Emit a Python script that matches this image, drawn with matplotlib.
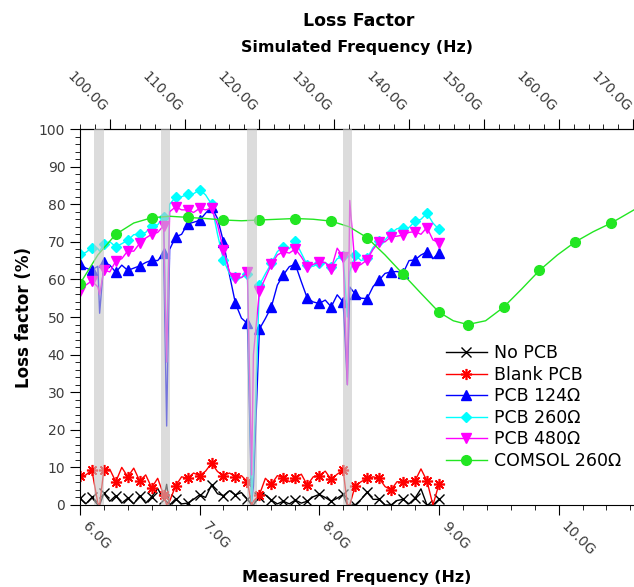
import matplotlib
matplotlib.use("Agg")
import matplotlib.pyplot as plt
from matplotlib.ticker import MultipleLocator, FuncFormatter
import numpy as np

# Frecuencia medida (GHz)
freq = [6.00, 6.05, 6.10, 6.15, 6.165, 6.20, 6.25, 6.30, 6.35, 6.40, 6.45,
        6.50, 6.55, 6.60, 6.65, 6.70, 6.725, 6.75, 6.80, 6.85, 6.90, 6.95,
        7.00, 7.05, 7.10, 7.15, 7.20, 7.25, 7.30, 7.35, 7.40, 7.435, 7.45,
        7.50, 7.55, 7.60, 7.65, 7.70, 7.75, 7.80, 7.85, 7.90, 7.95,
        8.00, 8.05, 8.10, 8.15, 8.20, 8.235, 8.255, 8.30, 8.35, 8.40, 8.45,
        8.50, 8.55, 8.60, 8.65, 8.70, 8.75, 8.80, 8.85, 8.90, 8.95, 9.00]

no_pcb = [1.8, 0.3, 2.0, 0.0, 0.0, 3.1, 1.0, 2.5, 0.5, 1.8, 0.3,
          2.5, 0.5, 2.2, 4.4, 1.5, 5.5, 0.0, 1.6, 0.3, 0.5, 1.5,
          2.7, 2.0, 5.3, 3.0, 2.5, 3.8, 2.7, 3.3, 1.5, 0.0, 0.0,
          2.2, 2.7, 1.3, 0.3, 1.0, 0.3, 1.3, 0.5, 1.0, 2.2,
          2.8, 2.0, 1.0, 1.8, 2.8, 0.0, 0.0, 0.0, 1.5, 3.4, 1.5,
          1.5, 0.0, 0.0, 1.2, 1.5, 0.3, 1.8, 4.3, 0.0, 0.0, 1.5]

blank_pcb = [7.6, 8.0, 9.3, 0.5, 0.0, 9.3, 9.5, 6.2, 10.0, 7.5, 9.8,
             6.4, 8.0, 4.6, 7.1, 2.7, 0.0, 1.0, 5.1, 7.5, 7.1, 8.5,
             7.8, 9.0, 11.1, 8.9, 7.8, 8.5, 7.5, 7.8, 6.2, 0.0, 1.0,
             2.7, 7.1, 5.5, 7.8, 7.3, 6.2, 7.1, 8.2, 5.3, 7.5,
             7.8, 9.0, 6.8, 8.2, 9.3, 0.0, 0.0, 5.1, 6.2, 7.1, 7.5,
             7.1, 4.9, 4.0, 6.2, 6.0, 6.4, 6.4, 9.6, 6.4, 0.0, 5.5]

pcb_124 = [64.0, 63.0, 62.5, 63.5, 51.0, 64.5, 63.8, 61.9, 63.8, 62.4, 63.0,
           63.6, 64.5, 65.1, 65.0, 66.9, 21.0, 68.0, 71.3, 72.0, 74.8, 75.2,
           75.7, 77.6, 79.3, 76.2, 70.0, 61.2, 53.6, 49.7, 48.3, 1.0, 5.0,
           46.8, 49.6, 52.7, 58.5, 61.2, 63.4, 64.0, 59.4, 55.0, 54.0,
           53.6, 54.5, 52.7, 55.9, 54.0, 32.0, 58.0, 56.1, 55.0, 54.9, 58.1,
           59.8, 61.6, 62.0, 62.1, 61.6, 65.0, 65.2, 66.5, 67.3, 65.5, 67.1]

pcb_260 = [66.7, 67.2, 68.4, 68.2, 67.5, 69.4, 70.0, 68.7, 69.5, 70.4, 71.9,
           72.0, 72.5, 74.3, 74.5, 76.7, 38.0, 80.0, 81.9, 82.0, 82.6, 82.8,
           83.8, 82.5, 80.0, 72.0, 65.2, 61.5, 60.7, 60.5, 61.4, 1.0, 10.0,
           58.5, 61.5, 64.3, 67.4, 68.7, 68.2, 70.2, 67.0, 63.8, 63.5,
           64.3, 64.5, 63.2, 65.5, 66.2, 50.0, 62.0, 66.5, 65.0, 65.6, 68.5,
           70.3, 70.5, 72.3, 73.5, 73.6, 73.8, 75.5, 76.0, 77.6, 75.0, 73.3]

pcb_480 = [56.9, 58.5, 59.6, 58.0, 56.0, 62.5, 62.0, 64.9, 65.5, 67.6, 67.5,
           69.6, 71.0, 72.0, 72.5, 74.3, 38.0, 78.0, 79.3, 78.5, 78.5, 77.8,
           78.9, 78.5, 78.9, 74.5, 67.8, 62.0, 60.3, 60.5, 61.9, 8.0, 40.0,
           56.9, 60.4, 64.0, 66.5, 67.4, 67.0, 68.1, 66.0, 63.4, 64.0,
           64.6, 64.5, 62.8, 68.3, 66.0, 32.0, 81.0, 63.2, 64.0, 65.2, 68.0,
           70.0, 70.0, 71.4, 71.5, 71.8, 72.5, 72.7, 72.0, 73.8, 70.5, 69.8]

# Simulacion COMSOL (eje en frecuencia medida)
comsol_freq = [6.0, 6.15, 6.3, 6.45, 6.6, 6.75, 6.9, 7.05, 7.2, 7.35,
               7.5, 7.65, 7.8, 7.95, 8.1, 8.25, 8.4, 8.55, 8.7, 8.85,
               9.0, 9.12, 9.24, 9.39, 9.54, 9.69, 9.84, 9.99, 10.14, 10.29,
               10.44, 10.63]
comsol_260 = [58.8, 66.5, 72.0, 75.0, 76.4, 76.8, 76.5, 76.2, 75.8, 75.6,
              75.8, 76.0, 76.2, 76.0, 75.5, 74.0, 71.1, 66.5, 61.4, 56.3,
              51.3, 49.0, 48.0, 49.0, 52.6, 57.4, 62.4, 66.5, 70.0, 72.7,
              75.0, 78.5]

# Bandas excluidas
bands = [(6.12, 6.20), (6.68, 6.75), (7.40, 7.48), (8.20, 8.27)]

freq = np.array(freq)
marks = list(np.isclose(np.round(freq * 10), freq * 10))

fig = plt.figure(figsize=(6.34, 5.87), dpi=100)
ax = fig.add_axes([0.126, 0.1397, 0.874, 0.6405])

ax.plot(freq, no_pcb, color='black', marker='x', ms=7, lw=1, markevery=marks, label='No PCB')
ax.plot(freq, blank_pcb, color='red', marker=(8, 2, 0), ms=8, mew=1.2, lw=1, markevery=marks, label='Blank PCB')
ax.plot(freq, pcb_124, color='blue', marker='^', ms=7, lw=1, markevery=marks, label='PCB 124Ω')
ax.plot(freq, pcb_260, color='cyan', marker='D', ms=5.5, lw=1, markevery=marks, label='PCB 260Ω')
ax.plot(freq, pcb_480, color='magenta', marker='v', ms=7, lw=1, markevery=marks, label='PCB 480Ω')
ax.plot(comsol_freq, comsol_260, color='#22e622', marker='o', ms=7, lw=1, markevery=2, label='COMSOL 260Ω')

for b0, b1 in bands:
    ax.axvspan(b0, b1, color='#c5c5c5', alpha=0.6, lw=0, zorder=5)

ax.set_xlim(6.0, 10.63)
ax.set_ylim(0, 100)
ax.xaxis.set_major_locator(MultipleLocator(1.0))
ax.xaxis.set_minor_locator(MultipleLocator(0.2))
ax.yaxis.set_major_locator(MultipleLocator(10))
ax.yaxis.set_minor_locator(MultipleLocator(2))
ax.xaxis.set_major_formatter(FuncFormatter(lambda x, p: '%.1fG' % x))
ax.tick_params(which='major', length=7, labelsize=10, labelcolor='#3c3c3c')
ax.tick_params(which='minor', length=3.5)
for lbl in ax.get_xticklabels():
    lbl.set_rotation(-45)
    lbl.set_ha('left')
ax.spines['right'].set_visible(False)

sec = ax.secondary_xaxis('top', functions=(lambda x: x * 16, lambda x: x / 16))
sec.xaxis.set_major_locator(MultipleLocator(10))
sec.xaxis.set_minor_locator(MultipleLocator(2))
sec.xaxis.set_major_formatter(FuncFormatter(lambda x, p: '%.1fG' % x))
sec.tick_params(which='major', length=7, labelsize=10, labelcolor='#3c3c3c')
sec.tick_params(which='minor', length=3.5)
for lbl in sec.get_xticklabels():
    lbl.set_rotation(-45)
    lbl.set_ha('right')
sec.set_xlabel('Simulated Frequency (Hz)', fontsize=11.4, fontweight='bold', labelpad=12)

ax.set_xlabel('Measured Frequency (Hz)', fontsize=11.4, fontweight='bold', labelpad=8)
ax.set_ylabel('Loss factor (%)', fontsize=12, fontweight='bold', labelpad=4)
fig.text(0.565, 0.965, 'Loss Factor', fontsize=12.5, fontweight='bold', ha='center', va='center')

ax.legend(loc='lower right', bbox_to_anchor=(0.99, 0.075), frameon=False, fontsize=12.5,
          labelspacing=0.2, handlelength=2.4, handletextpad=0.4, borderaxespad=0)

fig.savefig('out.png', dpi=100)
